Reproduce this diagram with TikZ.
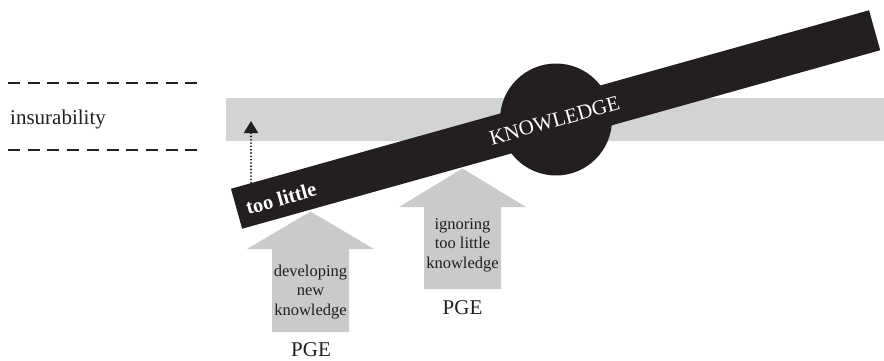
\documentclass[tikz,border=0pt]{standalone}
\usepackage{fontspec}
\setmainfont{Liberation Serif}
\usetikzlibrary{arrows.meta}
\definecolor{beamc}{HTML}{231F20}
\definecolor{bandc}{HTML}{D1D3D4}
\definecolor{arrc}{HTML}{C9CACB}
\definecolor{txtc}{HTML}{231F20}
\begin{document}
\begin{tikzpicture}[x=1pt,y=-1pt,
  dashline/.style={draw=beamc,line width=2pt,dash pattern=on 12pt off 7.7pt},
  dotline/.style={draw=beamc,line width=2.1pt,dash pattern=on 0pt off 3.3pt,line cap=round,
     -{Triangle[width=14pt,length=12pt]}},
  blockarrow/.style={fill=arrc},
  arrtext/.style={text=txtc,align=center,inner sep=0pt,font=\fontsize{16.5}{19.5}\selectfont},
  label/.style={text=txtc,inner sep=0pt,font=\fontsize{21}{24}\selectfont},
  beamtext/.style={text=white,inner sep=0pt,rotate=15.63}
]
\useasboundingbox (0,0) rectangle (884,360);
% band
\fill[bandc] (226,98) rectangle (884,140.5);
% dashed lines
\coordinate (d1a) at (8,83.3); \coordinate (d1b) at (199,83.3);
\coordinate (d2a) at (8,150); \coordinate (d2b) at (199,150);
\draw[dashline] (d1a) -- (d1b);
\draw[dashline] (d2a) -- (d2b);
\node[label,anchor=base west] (ins) at (10,124.3) {insurability};
% dotted arrow
\coordinate (dotS) at (251,186);
\coordinate (dotE) at (251,121);
\draw[dotline] (dotS) -- (dotE);
% beam and circle
\node[fill=beamc,draw=none,rotate=15.63,minimum width=662.6pt,minimum height=41.5pt,inner sep=0pt] (beam) at (555.6,119.5) {};
\fill[beamc] (556,119.5) circle[radius=56pt];
\node[beamtext,font=\bfseries\fontsize{20.5}{22}\selectfont] (little) at (281,198.5) {too little};
\node[beamtext,font=\fontsize{21}{22}\selectfont] (know) at (554.5,120.5) {KNOWLEDGE};
% block arrows
\fill[blockarrow] (272,332) -- (272,249) -- (247,249) -- (310.5,211.5) -- (374,249) -- (349,249) -- (349,332) -- cycle;
\fill[blockarrow] (424,289) -- (424,207) -- (399,207) -- (462.5,168.5) -- (526,207) -- (501,207) -- (501,289) -- cycle;
\node[arrtext] (dev) at (310.5,292) {developing\\new\\knowledge};
\node[arrtext] (ign) at (462.5,245) {ignoring\\too little\\knowledge};
\node[label] (pge1) at (311,350) {PGE};
\node[label] (pge2) at (462.5,307.5) {PGE};
\end{tikzpicture}
\end{document}
